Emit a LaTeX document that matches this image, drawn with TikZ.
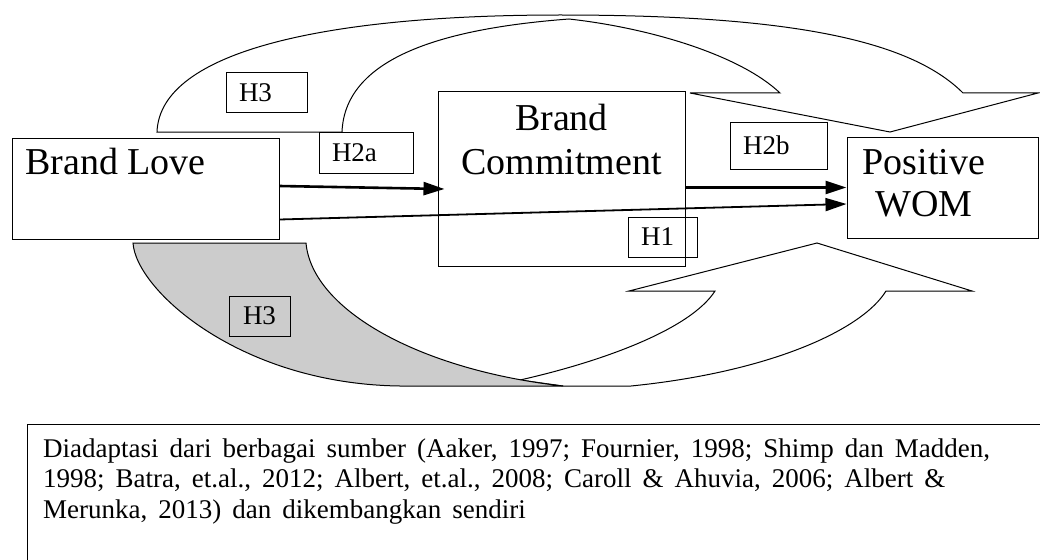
\documentclass[tikz,border=0pt]{standalone}
\usepackage{fontspec}
\setmainfont{Liberation Serif}
\usetikzlibrary{arrows.meta}
\definecolor{ShadeGray}{RGB}{204,204,204}
\newcommand{\notefont}{\fontsize{27}{30.5}\selectfont\spaceskip=11pt\relax}

\begin{document}
\begin{tikzpicture}[x=1pt, y=-1pt,
  box/.style={draw, line width=1pt, inner sep=0pt},
  hyp/.style={draw, line width=1pt, inner xsep=13pt, inner ysep=0pt, align=left, font=\fontsize{27}{30}\selectfont},
  big/.style={inner sep=0pt, font=\fontsize{38}{44}\selectfont},
  link/.style={-{Triangle[length=21pt,width=13pt]}, line width=2.6pt}]
\useasboundingbox (0,0) rectangle (1040,559);
\clip (0,0) rectangle (1040,559);

% top block arrow
\draw[line width=1pt] (157,132) -- (342,132)
  .. controls (345,55) and (450,28) .. (569,19)
  .. controls (650,28) and (740,55) .. (780,93)
  -- (690,93) -- (890,132) -- (1038,93) -- (963,93)
  .. controls (910,40) and (790,15) .. (560,15)
  .. controls (330,15) and (160,50) .. (157,132) -- cycle;

% bottom block arrow, shaded back
\draw[line width=1pt, fill=white] (520,380)
  .. controls (600,362) and (690,330) .. (715,291)
  -- (629,291) -- (817,243) -- (972,291) -- (886,291)
  .. controls (862,330) and (770,372) .. (631,386)
  -- (563,386) -- cycle;
\draw[line width=1pt, fill=ShadeGray] (133,243) -- (306,243)
  .. controls (312,310) and (420,370) .. (563,386)
  -- (400,386) .. controls (240,384) and (136,290) .. (133,243) -- cycle;

% constructs
\node[box, minimum width=267pt, minimum height=101pt] (love) at (145.5,188.5) {};
\node[big, anchor=base west] (lovetxt) at (25,174) {Brand Love};
\node[box, minimum width=247pt, minimum height=174pt] (bc) at (561.5,179) {};
\node[big, anchor=base] (bctxta) at (561.5,130) {Brand};
\node[big, anchor=base] (bctxtb) at (561.5,174) {Commitment};
\node[box, minimum width=191pt, minimum height=101pt] (wom) at (942.5,187.5) {};
\node[big, anchor=base] (womtxta) at (924,174) {Positive};
\node[big, anchor=base] (womtxtb) at (924,216) {WOM};

% hypotheses
\node[hyp, minimum width=81.5pt, minimum height=40pt, text width=55.5pt] (h3top) at (266.75,93) {H3};
\node[hyp, minimum width=94pt, minimum height=41pt, text width=68pt] (h2a) at (366,152.5) {H2a};
\node[hyp, minimum width=97pt, minimum height=47pt, text width=71pt] (h2b) at (778.5,145.5) {H2b};
\node[hyp, minimum width=69pt, minimum height=40pt, text width=43pt] (h1) at (662.5,237) {H1};
\node[hyp, fill=ShadeGray, minimum width=61pt, minimum height=40pt, text width=35pt, align=center] (h3bot) at (259.5,316) {H3};

% paths
\draw[link] ([yshift=2.5pt]love.east) -- ([xshift=7pt,yshift=-10pt]bc.west);
\draw[link, line width=1.8pt] ([yshift=20pt]love.south east) -- ([yshift=-16.5pt]wom.west);
\draw[link] (bc.east |- wom.west) -- (wom.west);

% source note
\node[box, anchor=north west, minimum width=1040pt, minimum height=160pt] (src) at (26.5,424) {};
\node[anchor=base west, inner sep=0pt, align=left, font=\notefont] (srctxt) at (43,518)
  {Diadaptasi dari berbagai sumber (Aaker, 1997; Fournier, 1998; Shimp dan Madden,\\
   1998; Batra, et.al., 2012; Albert, et.al., 2008; Caroll \& Ahuvia, 2006; Albert \&\\
   Merunka, 2013) dan dikembangkan sendiri};
\end{tikzpicture}
\end{document}
